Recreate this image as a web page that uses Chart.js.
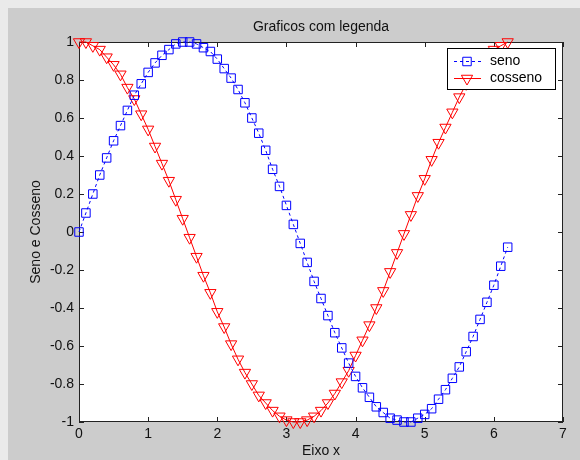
<!DOCTYPE html>
<html>
<head>
<meta charset="utf-8">
<script src="https://cdn.jsdelivr.net/npm/chart.js@4/dist/chart.umd.min.js"></script>
<style>
html,body{margin:0;padding:0;background:#eaeaea;}
#wrap{width:580px;height:460px;position:relative;}
</style>
</head>
<body>
<div id="wrap"><canvas id="c" width="580" height="460"></canvas></div>
<script>
const titleText = 'Graficos com legenda';
const xAxisTitle = 'Eixo x';
const yAxisTitle = 'Seno e Cosseno';
const seriesNames = ['seno', 'cosseno'];

const xValues = [0.0,0.1,0.2,0.3,0.4,0.5,0.6,0.7,0.8,0.9,1.0,1.1,1.2,1.3,1.4,1.5,1.6,1.7,1.8,1.9,
  2.0,2.1,2.2,2.3,2.4,2.5,2.6,2.7,2.8,2.9,3.0,3.1,3.2,3.3,3.4,3.5,3.6,3.7,3.8,3.9,
  4.0,4.1,4.2,4.3,4.4,4.5,4.6,4.7,4.8,4.9,5.0,5.1,5.2,5.3,5.4,5.5,5.6,5.7,5.8,5.9,
  6.0,6.1,6.2];

const senoValues = [0.00,0.10,0.20,0.30,0.39,0.48,0.56,0.64,0.72,0.78,0.84,0.89,0.93,0.96,0.99,1.00,1.00,0.99,0.97,0.95,
  0.91,0.86,0.81,0.75,0.68,0.60,0.52,0.43,0.33,0.24,0.14,0.04,-0.06,-0.16,-0.26,-0.35,-0.44,-0.53,-0.61,-0.69,
  -0.76,-0.82,-0.87,-0.92,-0.95,-0.98,-0.99,-1.00,-1.00,-0.98,-0.96,-0.93,-0.88,-0.83,-0.77,-0.71,-0.63,-0.55,-0.46,-0.37,
  -0.28,-0.18,-0.08];

const cossenoValues = [1.00,1.00,0.98,0.96,0.92,0.88,0.83,0.76,0.70,0.62,0.54,0.45,0.36,0.27,0.17,0.07,-0.03,-0.13,-0.23,-0.32,
  -0.42,-0.50,-0.59,-0.67,-0.74,-0.80,-0.86,-0.90,-0.94,-0.97,-0.99,-1.00,-1.00,-0.99,-0.97,-0.94,-0.90,-0.85,-0.79,-0.73,
  -0.65,-0.57,-0.49,-0.40,-0.31,-0.21,-0.11,-0.01,0.09,0.19,0.28,0.38,0.47,0.55,0.63,0.71,0.78,0.83,0.89,0.93,
  0.96,0.98,1.00];

const xTickValues = [0,1,2,3,4,5,6,7];
const xTickLabels = ['0','1','2','3','4','5','6','7'];
const yTickValues = [-1,-0.8,-0.6,-0.4,-0.2,0,0.2,0.4,0.6,0.8,1];
const yTickLabels = ['-1','-0.8','-0.6','-0.4','-0.2','0','0.2','0.4','0.6','0.8','1'];

const FONT = '"Liberation Sans", Arial, sans-serif';
const FS = 14;
const TXT = '#111111';

const bgPlugin = {
  id: 'figureBg',
  beforeDraw(chart) {
    const {ctx, chartArea: a} = chart;
    ctx.save();
    ctx.fillStyle = '#eaeaea';
    ctx.fillRect(0, 0, chart.width, chart.height);
    ctx.fillStyle = '#cccccc';
    ctx.fillRect(8, 8, chart.width - 8, chart.height - 8);
    ctx.fillStyle = '#ffffff';
    ctx.fillRect(a.left, a.top, a.right - a.left, a.bottom - a.top);
    ctx.restore();
  }
};

const axesBoxPlugin = {
  id: 'axesBox',
  beforeDatasetsDraw(chart) {
    const {ctx, chartArea: a, scales} = chart;
    const L = 5;
    ctx.save();
    ctx.strokeStyle = '#222222';
    ctx.lineWidth = 1;
    ctx.strokeRect(a.left + 0.5, a.top + 0.5, a.right - a.left - 1, a.bottom - a.top - 1);
    ctx.beginPath();
    scales.x.ticks.forEach(t => {
      const px = Math.round(scales.x.getPixelForValue(t.value)) + 0.5;
      ctx.moveTo(px, a.bottom); ctx.lineTo(px, a.bottom - L);
      ctx.moveTo(px, a.top); ctx.lineTo(px, a.top + L);
    });
    scales.y.ticks.forEach(t => {
      const py = Math.round(scales.y.getPixelForValue(t.value)) + 0.5;
      ctx.moveTo(a.left, py); ctx.lineTo(a.left + L, py);
      ctx.moveTo(a.right, py); ctx.lineTo(a.right - L, py);
    });
    ctx.stroke();
    ctx.restore();
  }
};

const legendPlugin = {
  id: 'matlabLegend',
  afterDraw(chart) {
    const {ctx, chartArea: a} = chart;
    const bw = 108, bh = 41;
    const bx = a.right - 116, by = a.top + 6;
    ctx.save();
    ctx.fillStyle = '#ffffff';
    ctx.fillRect(bx, by, bw, bh);
    ctx.strokeStyle = '#000000';
    ctx.lineWidth = 1;
    ctx.strokeRect(bx + 0.5, by + 0.5, bw, bh);
    chart.data.datasets.forEach((ds, i) => {
      const y = Math.round(by + 13 + i * 17) + 0.5;
      ctx.strokeStyle = ds.borderColor;
      ctx.lineWidth = 1;
      ctx.setLineDash(ds.borderDash || []);
      ctx.beginPath(); ctx.moveTo(bx + 7, y); ctx.lineTo(bx + 34, y); ctx.stroke();
      ctx.setLineDash([]);
      ctx.fillStyle = 'rgba(0,0,0,0)';
      ctx.strokeStyle = ds.pointBorderColor;
      Chart.helpers.drawPoint(ctx, {
        pointStyle: ds.pointStyle, rotation: ds.pointRotation || 0,
        radius: ds.pointRadius, borderWidth: 1
      }, bx + 20, y);
      ctx.fillStyle = '#000000';
      ctx.font = FS + 'px ' + FONT;
      ctx.textBaseline = 'middle';
      ctx.textAlign = 'left';
      ctx.fillText(ds.label, bx + 43, y);
    });
    ctx.restore();
  }
};

const toPoints = (ys) => xValues.map((x, i) => ({x: x, y: ys[i]}));

new Chart(document.getElementById('c'), {
  type: 'scatter',
  data: {
    datasets: [
      {
        label: seriesNames[0],
        data: toPoints(senoValues),
        showLine: true,
        borderColor: '#0000ff',
        borderWidth: 1,
        borderDash: [3, 3],
        pointStyle: 'rect',
        pointRadius: 6,
        pointBorderColor: '#0000ff',
        pointBackgroundColor: 'rgba(0,0,0,0)',
        pointBorderWidth: 1,
        backgroundColor: 'rgba(0,0,0,0)',
        clip: false
      },
      {
        label: seriesNames[1],
        data: toPoints(cossenoValues),
        showLine: true,
        borderColor: '#ff0000',
        borderWidth: 1,
        pointStyle: 'triangle',
        pointRotation: 180,
        pointRadius: 6.5,
        pointBorderColor: '#ff0000',
        pointBackgroundColor: 'rgba(0,0,0,0)',
        pointBorderWidth: 1,
        backgroundColor: 'rgba(0,0,0,0)',
        clip: false
      }
    ]
  },
  options: {
    responsive: false,
    animation: false,
    events: [],
    layout: {padding: {left: 0, right: 17, top: 0, bottom: 0}},
    plugins: {
      legend: {display: false},
      tooltip: {enabled: false},
      title: {
        display: true,
        fullSize: false,
        text: titleText,
        color: TXT,
        font: {family: FONT, size: FS, weight: 'normal'},
        padding: {top: 18.6, bottom: 6.6}
      }
    },
    scales: {
      x: {
        type: 'linear',
        min: 0, max: 7,
        grid: {display: false, drawTicks: false},
        border: {display: false},
        afterBuildTicks: (s) => { s.ticks = xTickValues.map(v => ({value: v})); },
        afterFit: (s) => { s.height = 38; },
        ticks: {
          color: TXT, padding: 4, maxRotation: 0, autoSkip: false,
          font: {family: FONT, size: FS},
          callback: (v, i) => xTickLabels[i]
        },
        title: {
          display: true, text: xAxisTitle, color: TXT,
          font: {family: FONT, size: FS},
          padding: {top: 0, bottom: 0}
        }
      },
      y: {
        type: 'linear',
        min: -1, max: 1,
        grid: {display: false, drawTicks: false},
        border: {display: false},
        afterBuildTicks: (s) => { s.ticks = yTickValues.map(v => ({value: v})); },
        afterFit: (s) => { s.width = 79; },
        ticks: {
          color: TXT, padding: 5, autoSkip: false,
          font: {family: FONT, size: FS},
          callback: (v, i) => yTickLabels[i]
        },
        title: {
          display: true, text: yAxisTitle, color: TXT,
          font: {family: FONT, size: FS},
          padding: {top: 27.6, bottom: 0}
        }
      }
    }
  },
  plugins: [bgPlugin, axesBoxPlugin, legendPlugin]
});
</script>
</body>
</html>
